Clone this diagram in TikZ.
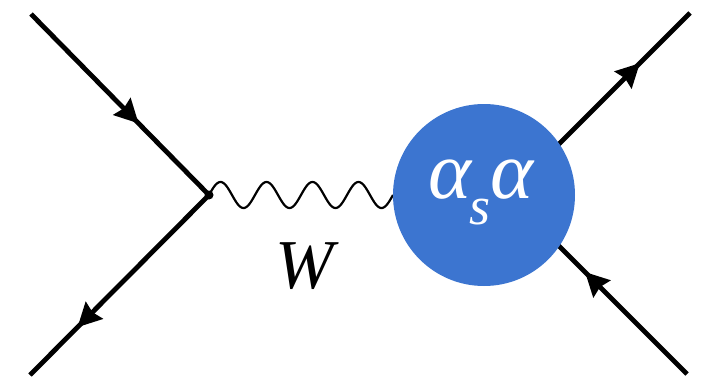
\documentclass[tikz,border=0pt]{standalone}
\usepackage{fontspec}
\setmainfont{Liberation Serif}
\newfontfamily\timesit{Liberation Serif Italic}
\usetikzlibrary{decorations.markings}
\definecolor{blobblue}{RGB}{60,117,208}
\tikzset{
  fermion/.style={line width=4.8pt, postaction={decorate},
    decoration={markings, mark=at position #1 with {\fill[line width=0pt] (1pt,0pt) -- (-23pt,12.5pt) -- (-20pt,0pt) -- (-23pt,-12.5pt) -- cycle;}}},
  bosonline/.style={line width=2.2pt},
  blobstyle/.style={circle, fill=blobblue, minimum size=182pt, inner sep=0pt, text=white},
}
\begin{document}
\begin{tikzpicture}[x=1pt,y=-1pt]
\useasboundingbox (0,0) rectangle (702,378);
\coordinate (v) at (209,195);
\coordinate (a1) at (31,14);
\coordinate (a2) at (30,375);
\coordinate (c) at (508,195);
\coordinate (b1) at (690,13);
\coordinate (b2) at (687,374);
\draw[fermion=0.60] (a1) -- (v);
\draw[fermion=0.73] (v) -- (a2);
\draw[fermion=0.72] (c) -- (b1);
\draw[fermion=0.565] (b2) -- (c);
\fill (v) circle (4.5pt);
\draw[bosonline] plot[domain=0:184, samples=240, smooth] ({209+\x}, {195-13*sin(\x*7.82609)});
\node[blobstyle] (blob) at (484,195) {};
\node[text=white, font=\fontsize{82}{82}\timesit] (lab) at (481,192) {α\kern-2pt\raisebox{-26pt}{\fontsize{54}{54}\selectfont s}α};
\node[font=\fontsize{70}{70}\timesit] (w) at (305,266) {W};
\end{tikzpicture}
\end{document}
